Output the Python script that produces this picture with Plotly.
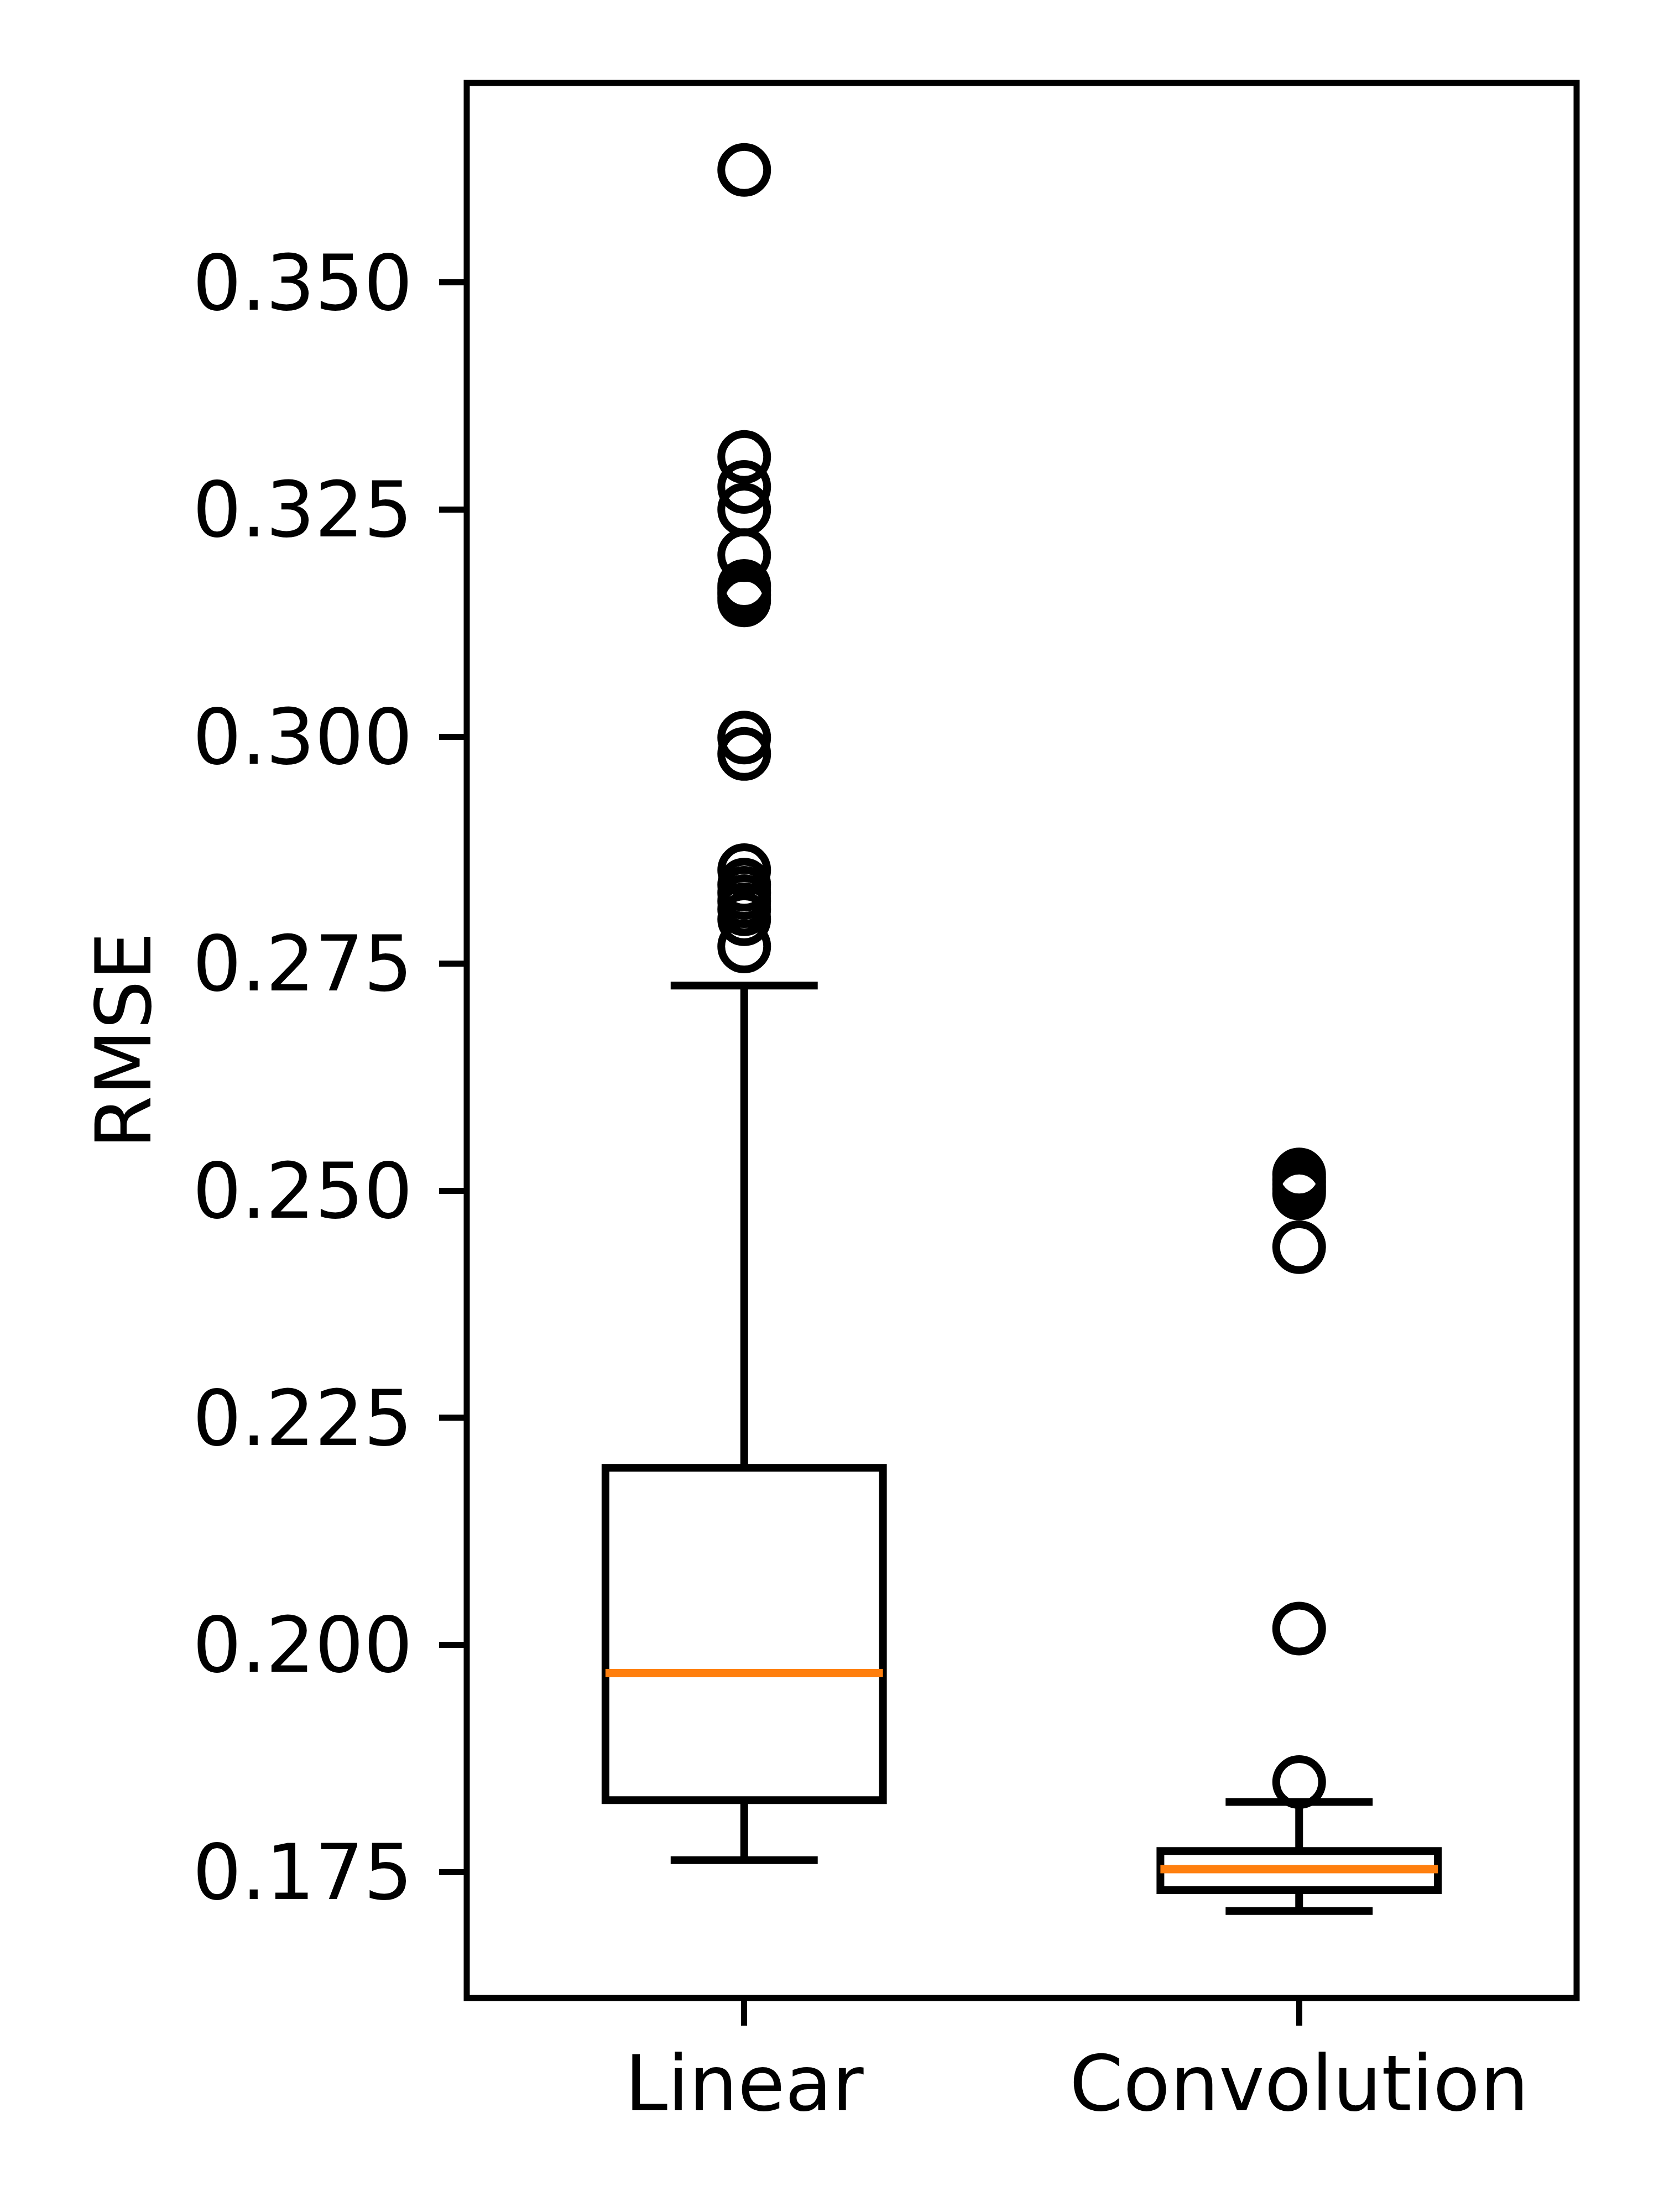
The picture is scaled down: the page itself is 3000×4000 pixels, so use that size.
import plotly.graph_objects as go

# box positions and labels
positions = [1, 2]
categories = ["Linear", "Convolution"]

# box statistics
q1 = [0.1829, 0.1730]
median = [0.1969, 0.1753]
q3 = [0.2195, 0.1773]
lower_whisker = [0.1763, 0.1707]
upper_whisker = [0.2726, 0.1827]

# outliers (fliers)
linear_outliers = [0.3624, 0.3308, 0.3275, 0.3250, 0.3200,
                   0.3166, 0.3161, 0.3156, 0.3150,
                   0.2999, 0.2981,
                   0.2853, 0.2837, 0.2828, 0.2819, 0.2810, 0.2799, 0.2769]
conv_outliers = [0.2518, 0.2512, 0.2507, 0.2502, 0.2497, 0.2438, 0.2018, 0.1849]

y_ticks = [0.175, 0.200, 0.225, 0.250, 0.275, 0.300, 0.325, 0.350]

FONT = "DejaVu Sans"
LW = 14  # 1pt at 1000 dpi

fig = go.Figure()

fig.add_trace(go.Box(
    x=positions,
    q1=q1, median=median, q3=q3,
    lowerfence=lower_whisker, upperfence=upper_whisker,
    boxpoints=False,
    width=0.5,
    whiskerwidth=0.53,
    fillcolor="rgba(0,0,0,0)",
    line=dict(color="black", width=LW),
    showlegend=False,
    hoverinfo="skip",
))

# orange median lines drawn over the box
for p, m in zip(positions, median):
    fig.add_trace(go.Scatter(
        x=[p - 0.25, p + 0.25], y=[m, m],
        mode="lines",
        line=dict(color="#ff7f0e", width=LW + 1),
        showlegend=False, hoverinfo="skip",
    ))

# fliers
for p, vals in zip(positions, [linear_outliers, conv_outliers]):
    fig.add_trace(go.Scatter(
        x=[p] * len(vals), y=vals,
        mode="markers",
        marker=dict(symbol="circle-open", size=83, color="black",
                    line=dict(color="black", width=LW)),
        showlegend=False, hoverinfo="skip",
    ))

# axes frame, centred on the plot-area edge like matplotlib spines
fig.add_shape(type="rect", xref="paper", yref="paper", x0=0, x1=1, y0=0, y1=1,
              line=dict(color="black", width=11), layer="above")

# margins shifted by 8px to offset the page's body margin
fig.update_layout(
    width=3000, height=4000,
    margin=dict(l=836, r=157, t=142, b=395),
    plot_bgcolor="white", paper_bgcolor="white",
    font=dict(family=FONT, size=139, color="black"),
    showlegend=False,
)

fig.update_xaxes(
    range=[0.5, 2.5],
    tickmode="array", tickvals=positions, ticktext=categories,
    ticks="outside", ticklen=49, tickwidth=11, tickcolor="black",
    ticklabelstandoff=-14,
    showline=False,
    showgrid=False, zeroline=False,
    tickfont=dict(family=FONT, size=139, color="black"),
)

fig.update_yaxes(
    range=[0.16112, 0.37198],
    tickmode="array", tickvals=y_ticks, tickformat=".3f",
    ticks="outside", ticklen=49, tickwidth=11, tickcolor="black",
    ticklabelstandoff=20,
    showline=False,
    showgrid=False, zeroline=False,
    tickfont=dict(family=FONT, size=139, color="black"),
    title=dict(text="RMSE", font=dict(family=FONT, size=139, color="black"), standoff=28),
)

fig.write_html("out.html")
